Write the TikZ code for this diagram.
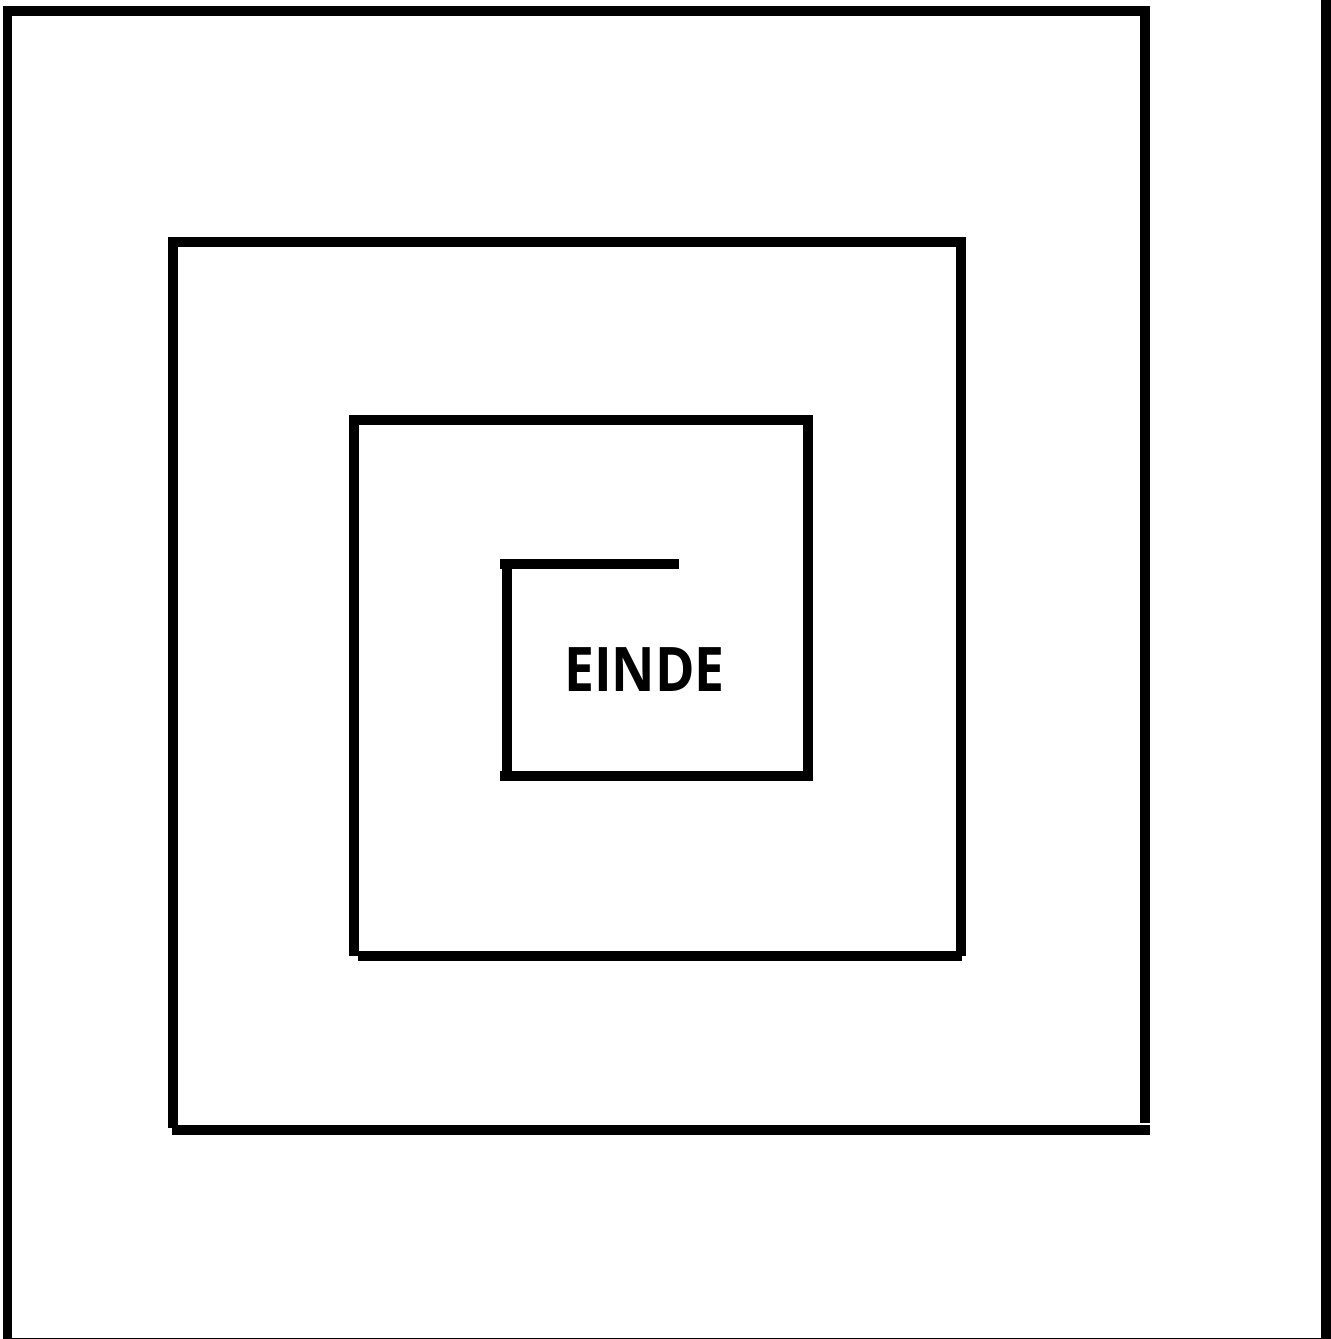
\documentclass[tikz,border=0pt]{standalone}
\usepackage{fontspec}
\newfontfamily\eindefont{Open Sans}[FakeStretch=0.87]
\usepackage{tikz}

\begin{document}
\begin{tikzpicture}[x=0.02cm,y=-0.02cm,wall/.style={line width=0.2cm}]
  \useasboundingbox (0,0) rectangle (1330,1339);
  % outer walls
  \draw[wall] (7.5,5.5) -- (7.5,1339);
  \draw[wall] (3,10.5) -- (1150,10.5);
  \draw[wall] (1145,5.5) -- (1145,1123);
  \draw[wall] (1325.5,0) -- (1325.5,1339);
  \draw[line width=0.03cm] (8,1338.5) -- (1322,1338.5);
  % second ring
  \draw[wall] (172,1130) -- (1150,1130);
  \draw[wall] (173,237) -- (173,1128);
  \draw[wall] (168,242) -- (966,242);
  \draw[wall] (961,237) -- (961,956);
  % third ring
  \draw[wall] (358,956) -- (962,956);
  \draw[wall] (354,415) -- (354,956);
  \draw[wall] (349,420) -- (804,420);
  \draw[wall] (808,415) -- (808,781);
  % inner ring
  \draw[wall] (500,776) -- (804,776);
  \draw[wall] (507,559) -- (507,776);
  \draw[wall] (500,564) -- (679,564);
  \node[font=\eindefont\bfseries\fontsize{35}{40}\selectfont,inner sep=0pt] (einde) at (644.5,669.5) {EINDE};
\end{tikzpicture}
\end{document}
